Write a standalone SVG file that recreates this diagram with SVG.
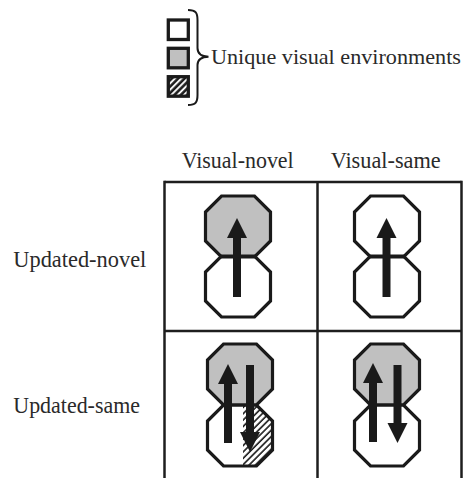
<svg xmlns="http://www.w3.org/2000/svg" width="468" height="478" viewBox="0 0 468 478">
<style>
text{font-family:"Liberation Serif","Times New Roman",serif;font-size:23px;fill:#2a2a2a}
.leg{font-size:22px}
.grid{stroke:#1e1e1e;stroke-width:2.5;fill:none}
.os{fill:none;stroke:#1a1a1a;stroke-width:3.2;stroke-linejoin:miter}
.shaft{stroke:#1a1a1a;stroke-width:8;fill:none}
.head{fill:#1a1a1a;stroke:none}
.gray{fill:#c0c0c0}
.white{fill:#fff}
</style>
<defs>
<polygon id="octo" points="16,0 49,0 65,16 65,45 49,61 16,61 0,45 0,16"/>
<pattern id="hatch" patternUnits="userSpaceOnUse" width="4.5" height="4.5" patternTransform="rotate(45)">
<rect width="4.5" height="4.5" fill="#fff"/>
<line x1="1" y1="0" x2="1" y2="4.5" stroke="#1a1a1a" stroke-width="1.6"/>
</pattern>
<pattern id="hatchL" patternUnits="userSpaceOnUse" width="4.5" height="4.5" patternTransform="rotate(45)">
<rect width="4.5" height="4.5" fill="#fff"/>
<line x1="1.5" y1="0" x2="1.5" y2="4.5" stroke="#1a1a1a" stroke-width="2.6"/>
</pattern>
<clipPath id="clipC">
<use href="#octo" x="207.5" y="405"/>
</clipPath>
</defs>

<g id="legend">
<rect x="168.3" y="20" width="20" height="19.5" fill="#fff" stroke="#1a1a1a" stroke-width="3.3"/>
<rect x="168.3" y="48.3" width="20" height="19.5" fill="#c0c0c0" stroke="#1a1a1a" stroke-width="3.3"/>
<rect x="168.3" y="76.7" width="20" height="19.5" fill="url(#hatchL)" stroke="#1a1a1a" stroke-width="3.3"/>
<path d="M188,10 C196,10 197.5,13 197.5,20 L197.5,48 C197.5,54 201,56.5 208.5,56.7 C201,57 197.5,59.5 197.5,65 L197.5,95 C197.5,102 196,105 188,105" fill="none" stroke="#1a1a1a" stroke-width="2"/>
<text class="leg" x="211" y="63.5" textLength="250" lengthAdjust="spacingAndGlyphs">Unique visual environments</text>
</g>

<g id="labels">
<text x="181.7" y="168.3" textLength="112" lengthAdjust="spacingAndGlyphs">Visual-novel</text>
<text x="330.7" y="168.3" textLength="110" lengthAdjust="spacingAndGlyphs">Visual-same</text>
<text x="13.3" y="266.7" textLength="133" lengthAdjust="spacingAndGlyphs">Updated-novel</text>
<text x="13.3" y="413.3" textLength="126.7" lengthAdjust="spacingAndGlyphs">Updated-same</text>
</g>

<g id="grid">
<line class="grid" x1="164.5" y1="182" x2="461.5" y2="182"/>
<line class="grid" x1="164.5" y1="331" x2="461.5" y2="331"/>
<line class="grid" x1="164.5" y1="180.8" x2="164.5" y2="478"/>
<line class="grid" x1="317.5" y1="182" x2="317.5" y2="478"/>
<line class="grid" x1="461.5" y1="180.8" x2="461.5" y2="478"/>
</g>

<g id="cell-updated-novel-visual-novel">
<use href="#octo" x="205.5" y="196" class="gray"/>
<use href="#octo" x="205.5" y="256" class="white"/>
<use href="#octo" x="205.5" y="196" class="os"/>
<use href="#octo" x="205.5" y="256" class="os"/>
<line class="shaft" x1="237" y1="297" x2="237" y2="236"/>
<polygon class="head" points="237,218 247,238 227,238"/>
</g>

<g id="cell-updated-novel-visual-same">
<use href="#octo" x="354.5" y="196" class="white"/>
<use href="#octo" x="354.5" y="256" class="white"/>
<use href="#octo" x="354.5" y="196" class="os"/>
<use href="#octo" x="354.5" y="256" class="os"/>
<line class="shaft" x1="386.5" y1="297" x2="386.5" y2="236"/>
<polygon class="head" points="386.5,218 396.5,238 376.5,238"/>
</g>

<g id="cell-updated-same-visual-novel">
<use href="#octo" x="207.5" y="344" class="gray"/>
<use href="#octo" x="207.5" y="405" class="white"/>
<rect x="243" y="403" width="32" height="66" fill="url(#hatch)" clip-path="url(#clipC)"/>
<use href="#octo" x="207.5" y="344" class="os"/>
<use href="#octo" x="207.5" y="405" class="os"/>
<line class="shaft" x1="228" y1="443" x2="228" y2="381"/>
<polygon class="head" points="228,364 238,384 218,384"/>
<line class="shaft" x1="250" y1="365" x2="250" y2="434"/>
<polygon class="head" points="250,452 260,432 240,432"/>
</g>

<g id="cell-updated-same-visual-same">
<use href="#octo" x="354.5" y="344" class="gray"/>
<use href="#octo" x="354.5" y="405" class="white"/>
<use href="#octo" x="354.5" y="344" class="os"/>
<use href="#octo" x="354.5" y="405" class="os"/>
<line class="shaft" x1="373" y1="442" x2="373" y2="381"/>
<polygon class="head" points="373,363 383,383 363,383"/>
<line class="shaft" x1="397.5" y1="365" x2="397.5" y2="425"/>
<polygon class="head" points="397.5,443 407.5,423 387.5,423"/>
</g>
</svg>
